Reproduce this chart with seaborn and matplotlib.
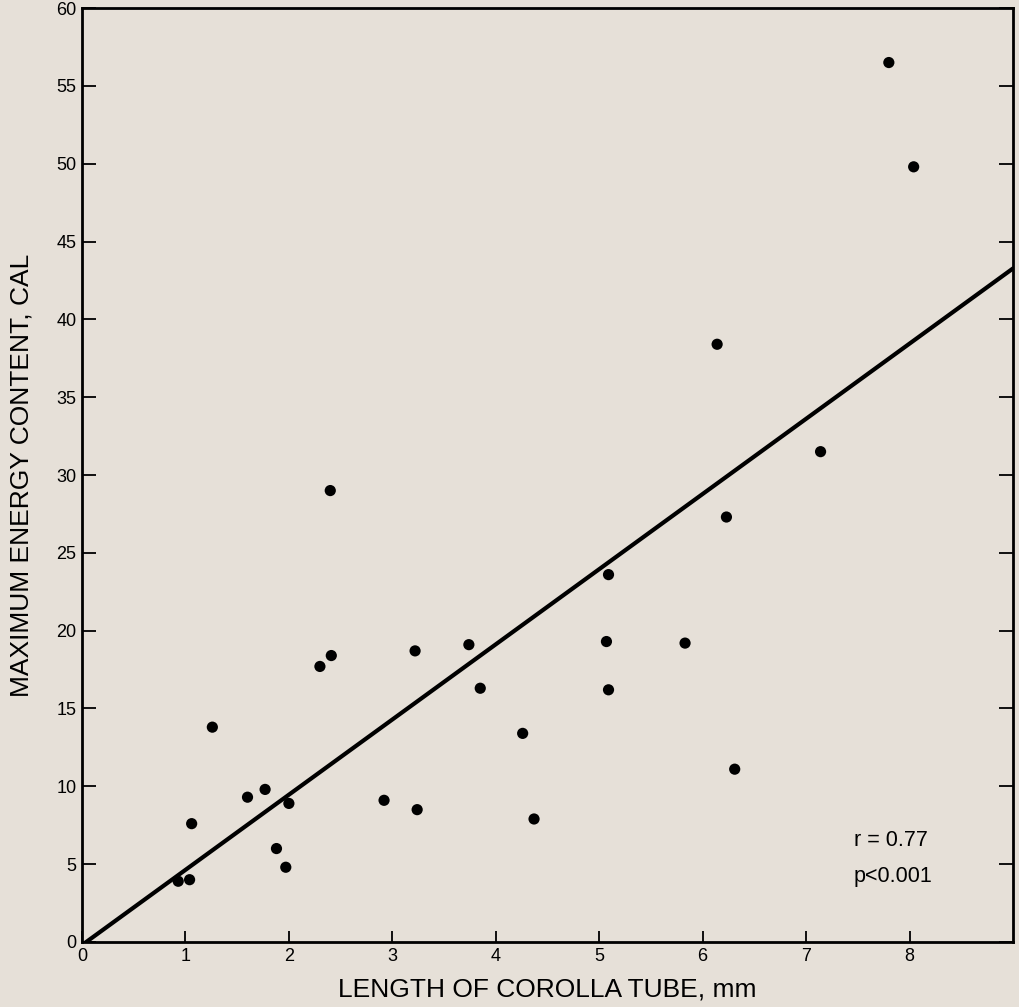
import numpy as np
import pandas as pd
import matplotlib
matplotlib.use('Agg')
import matplotlib.pyplot as plt
import seaborn as sns

# values
corolla_mm = [0.93, 1.04, 1.06, 1.26, 1.60, 1.77, 1.88, 1.97, 2.00, 2.30,
              2.40, 2.41, 2.92, 3.22, 3.24, 3.74, 3.85, 4.26, 4.37, 5.09,
              5.07, 5.09, 5.83, 6.14, 6.23, 6.31, 7.14, 7.80, 8.04]
energy_cal = [3.9, 4.0, 7.6, 13.8, 9.3, 9.8, 6.0, 4.8, 8.9, 17.7,
              29.0, 18.4, 9.1, 18.7, 8.5, 19.1, 16.3, 13.4, 7.9, 23.6,
              19.3, 16.2, 19.2, 38.4, 27.3, 11.1, 31.5, 56.5, 49.8]
fit_slope = 4.83
fit_intercept = -0.2
fit_x = [0, 9]
x_ticks = [0, 1, 2, 3, 4, 5, 6, 7, 8]
y_ticks = [0, 5, 10, 15, 20, 25, 30, 35, 40, 45, 50, 55, 60]

BG = '#e6e0d8'

sns.set_theme(style='ticks')
plt.rcParams['font.family'] = ['Liberation Sans', 'DejaVu Sans']
plt.rcParams['text.color'] = 'black'
plt.rcParams['axes.labelcolor'] = 'black'

df = pd.DataFrame({'x': corolla_mm, 'y': energy_cal})
fit = pd.DataFrame({'x': fit_x, 'y': [fit_intercept + fit_slope * v for v in fit_x]})

fig = plt.figure(figsize=(10.2, 10.07), dpi=100, facecolor=BG)
ax = fig.add_axes([0.0804, 0.0646, 0.9127, 0.9274])
ax.set_facecolor(BG)

sns.lineplot(data=fit, x='x', y='y', color='black', linewidth=3, ax=ax)
sns.scatterplot(data=df, x='x', y='y', color='black', s=65, edgecolor='none', ax=ax, zorder=3)

ax.set_xlim(0, 9)
ax.set_ylim(0, 60)
ax.set_xticks(x_ticks)
ax.set_yticks(y_ticks)

for s in ax.spines.values():
    s.set_linewidth(2)
    s.set_color('black')

ax.tick_params(axis='y', direction='in', length=10, width=1.3, left=True, right=True,
               labelsize=13, pad=4, colors='black')
ax.tick_params(axis='x', direction='in', length=8, width=1.3, bottom=True, top=False,
               labelsize=13, pad=4, colors='black')

ax.set_xlabel('LENGTH OF COROLLA TUBE, mm', fontsize=19, labelpad=9)
ax.set_ylabel('MAXIMUM ENERGY CONTENT, CAL', fontsize=19, labelpad=16)

ax.text(7.46, 6.5, 'r = 0.77', fontsize=15.5, va='center', ha='left')
ax.text(7.46, 4.2, 'p<0.001', fontsize=15.5, va='center', ha='left')

plt.savefig('out.png', dpi=100, facecolor=BG)
